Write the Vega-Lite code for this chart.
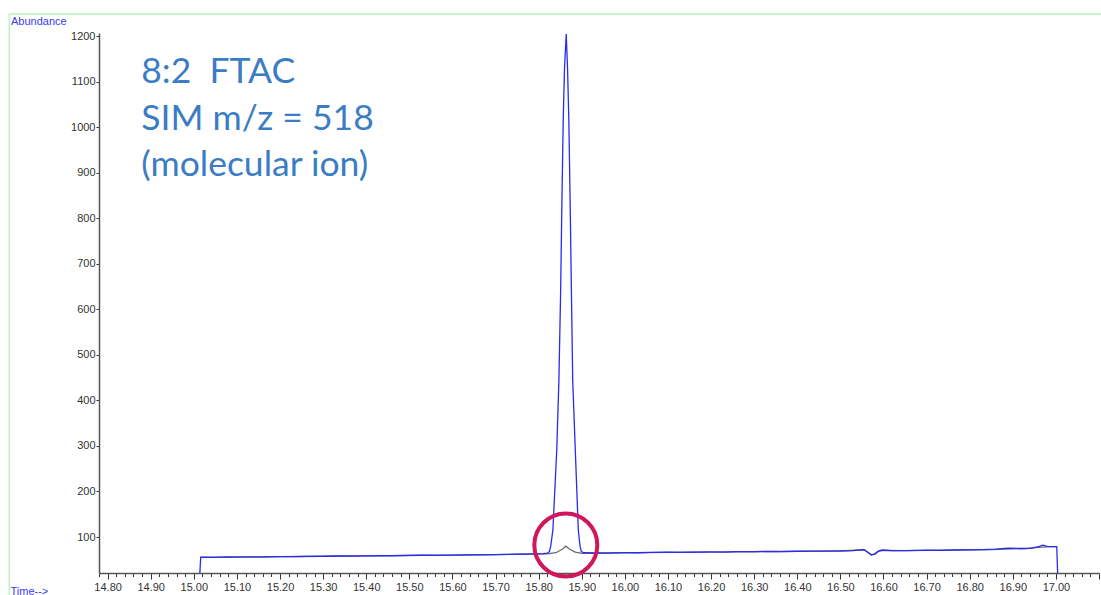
{
  "$schema": "https://vega.github.io/schema/vega-lite/v6.json",
  "width": 1000,
  "height": 540,
  "autosize": {"type": "none"},
  "padding": {"left": 99, "top": 33, "right": 2, "bottom": 22},
  "background": "white",
  "config": {"view": {"stroke": null}},
  "datasets": {
    "chrom": [
      {"t": 15.014, "a": 21, "s": "b"}, {"t": 15.016, "a": 56, "s": "b"}, {"t": 15.05, "a": 55.5, "s": "b"}, {"t": 15.08, "a": 56.2, "s": "b"}, {"t": 15.10, "a": 55.8, "s": "b"}, {"t": 15.13, "a": 56.5, "s": "b"}, {"t": 15.16, "a": 56.2, "s": "b"}, {"t": 15.20, "a": 57, "s": "b"}, {"t": 15.23, "a": 56.8, "s": "b"}, {"t": 15.26, "a": 57.4, "s": "b"}, {"t": 15.30, "a": 57.8, "s": "b"}, {"t": 15.33, "a": 58.3, "s": "b"}, {"t": 15.36, "a": 58, "s": "b"}, {"t": 15.40, "a": 58.8, "s": "b"}, {"t": 15.43, "a": 59.2, "s": "b"}, {"t": 15.46, "a": 58.9, "s": "b"}, {"t": 15.50, "a": 59.6, "s": "b"}, {"t": 15.53, "a": 60.1, "s": "b"}, {"t": 15.56, "a": 59.8, "s": "b"}, {"t": 15.60, "a": 60.4, "s": "b"}, {"t": 15.63, "a": 61, "s": "b"}, {"t": 15.66, "a": 60.8, "s": "b"}, {"t": 15.70, "a": 61.5, "s": "b"}, {"t": 15.73, "a": 62, "s": "b"}, {"t": 15.76, "a": 62.3, "s": "b"}, {"t": 15.79, "a": 62.8, "s": "b"}, {"t": 15.81, "a": 63.5, "s": "b"}, {"t": 15.820, "a": 64.5, "s": "b"}, {"t": 15.825, "a": 68, "s": "b"}, {"t": 15.828, "a": 80, "s": "b"}, {"t": 15.833, "a": 115, "s": "b"}, {"t": 15.842, "a": 291, "s": "b"}, {"t": 15.847, "a": 445, "s": "b"}, {"t": 15.851, "a": 640, "s": "b"}, {"t": 15.854, "a": 840, "s": "b"}, {"t": 15.857, "a": 1016, "s": "b"}, {"t": 15.860, "a": 1130, "s": "b"}, {"t": 15.864, "a": 1205, "s": "b"}, {"t": 15.867, "a": 1130, "s": "b"}, {"t": 15.870, "a": 1016, "s": "b"}, {"t": 15.873, "a": 840, "s": "b"}, {"t": 15.876, "a": 640, "s": "b"}, {"t": 15.879, "a": 445, "s": "b"}, {"t": 15.885, "a": 291, "s": "b"}, {"t": 15.892, "a": 115, "s": "b"}, {"t": 15.896, "a": 80, "s": "b"}, {"t": 15.899, "a": 68, "s": "b"}, {"t": 15.905, "a": 65.5, "s": "b"}, {"t": 15.93, "a": 65, "s": "b"}, {"t": 15.96, "a": 65.4, "s": "b"}, {"t": 16.00, "a": 65.8, "s": "b"}, {"t": 16.03, "a": 65.5, "s": "b"}, {"t": 16.06, "a": 66.3, "s": "b"}, {"t": 16.10, "a": 66.6, "s": "b"}, {"t": 16.13, "a": 66.2, "s": "b"}, {"t": 16.16, "a": 67, "s": "b"}, {"t": 16.20, "a": 67.3, "s": "b"}, {"t": 16.23, "a": 67, "s": "b"}, {"t": 16.26, "a": 67.8, "s": "b"}, {"t": 16.30, "a": 68, "s": "b"}, {"t": 16.33, "a": 68.4, "s": "b"}, {"t": 16.36, "a": 68.1, "s": "b"}, {"t": 16.40, "a": 68.8, "s": "b"}, {"t": 16.43, "a": 69.2, "s": "b"}, {"t": 16.46, "a": 69, "s": "b"}, {"t": 16.50, "a": 69.6, "s": "b"}, {"t": 16.53, "a": 70.3, "s": "b"}, {"t": 16.545, "a": 72, "s": "b"}, {"t": 16.555, "a": 72.5, "s": "b"}, {"t": 16.563, "a": 67, "s": "b"}, {"t": 16.572, "a": 61, "s": "b"}, {"t": 16.580, "a": 63, "s": "b"}, {"t": 16.588, "a": 69, "s": "b"}, {"t": 16.597, "a": 71.5, "s": "b"}, {"t": 16.62, "a": 70.3, "s": "b"}, {"t": 16.65, "a": 70, "s": "b"}, {"t": 16.68, "a": 70.6, "s": "b"}, {"t": 16.70, "a": 71, "s": "b"}, {"t": 16.73, "a": 70.7, "s": "b"}, {"t": 16.76, "a": 71.5, "s": "b"}, {"t": 16.80, "a": 72, "s": "b"}, {"t": 16.83, "a": 72.5, "s": "b"}, {"t": 16.86, "a": 73.6, "s": "b"}, {"t": 16.89, "a": 75.5, "s": "b"}, {"t": 16.92, "a": 74.8, "s": "b"}, {"t": 16.94, "a": 75, "s": "b"}, {"t": 16.96, "a": 79, "s": "b"}, {"t": 16.97, "a": 82, "s": "b"}, {"t": 16.98, "a": 79.5, "s": "b"}, {"t": 17.00, "a": 79, "s": "b"}, {"t": 17.002, "a": 79, "s": "b"}, {"t": 17.004, "a": 21, "s": "b"},
      {"t": 15.016, "a": 55.5, "s": "g"}, {"t": 15.06, "a": 55.8, "s": "g"}, {"t": 15.10, "a": 56.3, "s": "g"}, {"t": 15.15, "a": 56, "s": "g"}, {"t": 15.20, "a": 56.8, "s": "g"}, {"t": 15.25, "a": 57.2, "s": "g"}, {"t": 15.30, "a": 57.6, "s": "g"}, {"t": 15.35, "a": 58.3, "s": "g"}, {"t": 15.40, "a": 58.5, "s": "g"}, {"t": 15.45, "a": 59.3, "s": "g"}, {"t": 15.50, "a": 59.4, "s": "g"}, {"t": 15.55, "a": 60.2, "s": "g"}, {"t": 15.60, "a": 60.1, "s": "g"}, {"t": 15.65, "a": 61.1, "s": "g"}, {"t": 15.70, "a": 61.2, "s": "g"}, {"t": 15.75, "a": 62.2, "s": "g"}, {"t": 15.80, "a": 62.4, "s": "g"}, {"t": 15.82, "a": 63, "s": "g"}, {"t": 15.84, "a": 65.5, "s": "g"}, {"t": 15.855, "a": 73, "s": "g"}, {"t": 15.863, "a": 80, "s": "g"}, {"t": 15.872, "a": 73, "s": "g"}, {"t": 15.885, "a": 67, "s": "g"}, {"t": 15.90, "a": 64.2, "s": "g"}, {"t": 15.93, "a": 64.6, "s": "g"}, {"t": 15.96, "a": 64.2, "s": "g"}, {"t": 16.00, "a": 65.2, "s": "g"}, {"t": 16.05, "a": 65.6, "s": "g"}, {"t": 16.10, "a": 66.2, "s": "g"}, {"t": 16.15, "a": 66.6, "s": "g"}, {"t": 16.20, "a": 66.8, "s": "g"}, {"t": 16.25, "a": 67.4, "s": "g"}, {"t": 16.30, "a": 67.6, "s": "g"}, {"t": 16.35, "a": 68.2, "s": "g"}, {"t": 16.40, "a": 68.4, "s": "g"}, {"t": 16.45, "a": 69, "s": "g"}, {"t": 16.50, "a": 69.3, "s": "g"}, {"t": 16.545, "a": 71.5, "s": "g"}, {"t": 16.555, "a": 72, "s": "g"}, {"t": 16.563, "a": 66.5, "s": "g"}, {"t": 16.572, "a": 60.5, "s": "g"}, {"t": 16.58, "a": 62.5, "s": "g"}, {"t": 16.588, "a": 68.5, "s": "g"}, {"t": 16.60, "a": 70.5, "s": "g"}, {"t": 16.65, "a": 70.3, "s": "g"}, {"t": 16.70, "a": 70.6, "s": "g"}, {"t": 16.75, "a": 71.2, "s": "g"}, {"t": 16.80, "a": 71.6, "s": "g"}, {"t": 16.85, "a": 72.5, "s": "g"}, {"t": 16.90, "a": 74.2, "s": "g"}, {"t": 16.93, "a": 74.5, "s": "g"}, {"t": 16.96, "a": 77.5, "s": "g"}, {"t": 16.98, "a": 78.5, "s": "g"}, {"t": 17.00, "a": 78.8, "s": "g"}
    ],
    "frame": [
      {"t": 14.572, "a": 1249, "t2": 14.572, "a2": -60},
      {"t": 14.572, "a": 1249, "t2": 17.25, "a2": 1249}
    ],
    "notes": [
      {"t": 14.878, "a": 1097, "label": "8:2\u00a0\u00a0FTAC"},
      {"t": 14.878, "a": 994, "label": "SIM m/z = 518"},
      {"t": 14.878, "a": 894, "label": "(molecular ion)"}
    ],
    "ring": [
      {"t": 15.863, "a": 82.5}
    ]
  },
  "encoding": {
    "x": {
      "field": "t", "type": "quantitative",
      "scale": {"domain": [14.78, 17.10], "nice": false, "zero": false},
      "axis": {
        "values": [14.78, 14.8, 14.82, 14.84, 14.86, 14.88, 14.9, 14.92, 14.94, 14.96, 14.98, 15, 15.02, 15.04, 15.06, 15.08, 15.1, 15.12, 15.14, 15.16, 15.18, 15.2, 15.22, 15.24, 15.26, 15.28, 15.3, 15.32, 15.34, 15.36, 15.38, 15.4, 15.42, 15.44, 15.46, 15.48, 15.5, 15.52, 15.54, 15.56, 15.58, 15.6, 15.62, 15.64, 15.66, 15.68, 15.7, 15.72, 15.74, 15.76, 15.78, 15.8, 15.82, 15.84, 15.86, 15.88, 15.9, 15.92, 15.94, 15.96, 15.98, 16, 16.02, 16.04, 16.06, 16.08, 16.1, 16.12, 16.14, 16.16, 16.18, 16.2, 16.22, 16.24, 16.26, 16.28, 16.3, 16.32, 16.34, 16.36, 16.38, 16.4, 16.42, 16.44, 16.46, 16.48, 16.5, 16.52, 16.54, 16.56, 16.58, 16.6, 16.62, 16.64, 16.66, 16.68, 16.7, 16.72, 16.74, 16.76, 16.78, 16.8, 16.82, 16.84, 16.86, 16.88, 16.9, 16.92, 16.94, 16.96, 16.98, 17, 17.02, 17.04, 17.06, 17.08, 17.1],
        "labelExpr": "(abs(datum.value*10 - round(datum.value*10)) < 0.001 && datum.value < 17.05) ? format(datum.value, '.2f') : ''",
        "tickSize": {"condition": {"test": "abs(datum.value*10 - round(datum.value*10)) < 0.001", "value": 6}, "value": 3.5},
        "tickColor": "#333333",
        "tickWidth": 1,
        "domainColor": "#555555",
        "domainWidth": 1.5,
        "labelFont": "Liberation Sans",
        "labelFontSize": 11,
        "labelColor": "#333333",
        "labelBaseline": "top",
        "labelPadding": 2,
        "labelOverlap": false,
        "labelFlush": false,
        "labelBound": false,
        "grid": false,
        "title": "Time-->",
        "titleFont": "Liberation Sans",
        "titleFontSize": 11,
        "titleFontWeight": "normal",
        "titleColor": "#3a3af0",
        "titleAlign": "left",
        "titleBaseline": "alphabetic",
        "titleAnchor": "start",
        "titleX": -89,
        "titleY": 21
      }
    },
    "y": {
      "field": "a", "type": "quantitative",
      "scale": {"domain": [21, 1207], "nice": false, "zero": false},
      "axis": {
        "values": [100, 200, 300, 400, 500, 600, 700, 800, 900, 1000, 1100, 1200],
        "format": "d",
        "tickSize": 3,
        "tickColor": "#333333",
        "domainColor": "#555555",
        "domainWidth": 1.5,
        "labelFont": "Liberation Sans",
        "labelFontSize": 11,
        "labelColor": "#333333",
        "labelPadding": 1,
        "labelOverlap": false,
        "labelFlush": false,
        "labelBound": false,
        "grid": false,
        "title": "Abundance",
        "titleFont": "Liberation Sans",
        "titleFontSize": 11,
        "titleFontWeight": "normal",
        "titleColor": "#3a3af0",
        "titleAngle": 0,
        "titleAlign": "left",
        "titleBaseline": "alphabetic",
        "titleAnchor": "start",
        "titleX": -88.5,
        "titleY": -9
      }
    }
  },
  "layer": [
    {
      "data": {"name": "frame"},
      "mark": {"type": "rule", "color": "#b8f4b2", "strokeWidth": 1.5, "clip": false},
      "encoding": {"x2": {"field": "t2"}, "y2": {"field": "a2"}}
    },
    {
      "data": {"name": "chrom"},
      "transform": [{"filter": "datum.s === 'g'"}],
      "mark": {"type": "line", "color": "#6a6a6a", "strokeWidth": 1.3},
      "encoding": {}
    },
    {
      "data": {"name": "chrom"},
      "transform": [{"filter": "datum.s === 'b'"}],
      "mark": {"type": "line", "color": "#2a2af2", "strokeWidth": 1.3},
      "encoding": {}
    },
    {
      "data": {"name": "ring"},
      "mark": {"type": "point", "shape": "circle", "size": 3969, "filled": false, "stroke": "#d0175b", "strokeWidth": 4, "opacity": 1, "clip": false},
      "encoding": {}
    },
    {
      "data": {"name": "notes"},
      "mark": {"type": "text", "align": "left", "baseline": "alphabetic", "font": "Lato", "fontSize": 35.5, "color": "#3b7dc4"},
      "encoding": {"text": {"field": "label"}}
    }
  ]
}
